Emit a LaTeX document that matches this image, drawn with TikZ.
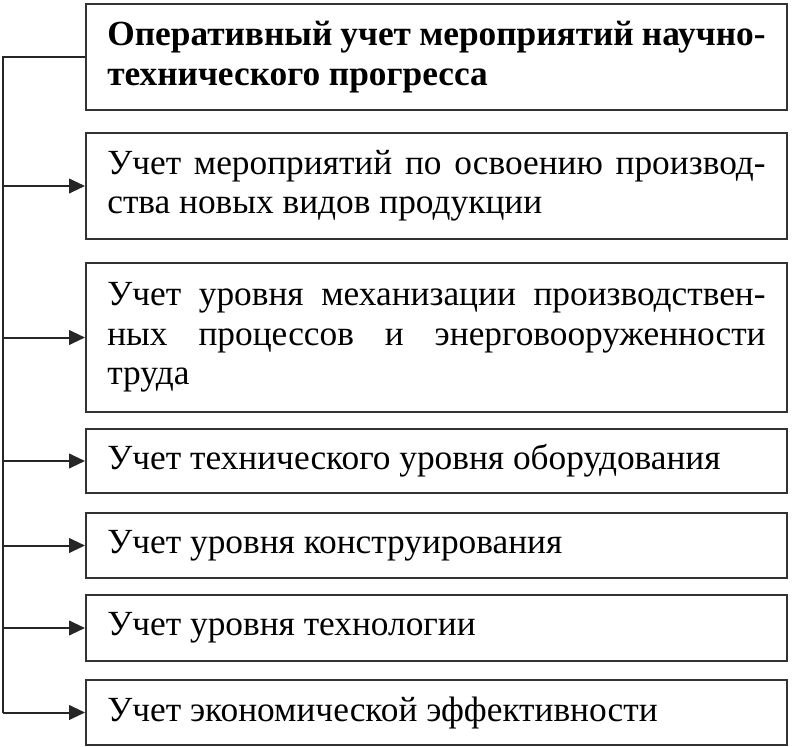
\documentclass[tikz,border=0pt]{standalone}
\usepackage{fontspec}
\setmainfont{Liberation Serif}
\usetikzlibrary{arrows.meta}
\tikzset{
  punkt/.style={draw=black!80, line width=1.5pt, anchor=north west, text width=493.75pt, inner xsep=16pt, align=justify, font=\fontsize{26.5}{29.5}\selectfont},
  liniya/.style={draw=black!85, line width=1.5pt},
  strelka/.style={liniya, -{Triangle[length=12pt,width=11pt]}}
}
\hyphenpenalty=10000
\begin{document}
\begin{tikzpicture}[x=0.75pt,y=-0.75pt]
\useasboundingbox (0,0) rectangle (792,746);
\node[punkt, minimum height=79.5pt, font=\fontsize{26.5}{29.5}\selectfont\bfseries] (np) at (85,3) {Оперативный учет мероприятий научно-\linebreak технического прогресса};
\node[punkt, minimum height=79.5pt] (u2) at (85,132) {Учет мероприятий по освоению производ-\linebreak ства новых видов продукции};
\node[punkt, minimum height=111.75pt] (u3) at (85,262) {Учет уровня механизации производствен-\linebreak ных процессов и энерговооруженности\linebreak труда};
\node[punkt, minimum height=48pt] (u4) at (85,428) {Учет технического уровня оборудования};
\node[punkt, minimum height=48.75pt] (u5) at (85,512) {Учет уровня конструирования};
\node[punkt, minimum height=49.5pt] (u6) at (85,594) {Учет уровня технологии};
\node[punkt, minimum height=48.75pt] (u7) at (85,679) {Учет экономической эффективности};
% shina sleva
\draw[liniya] (np.west) -- ++(-82,0) coordinate (shina) -- (shina |- u7.west);
\foreach \i in {2,...,7}
  \draw[strelka] (shina |- u\i.west) -- (u\i.west);
\end{tikzpicture}
\end{document}
